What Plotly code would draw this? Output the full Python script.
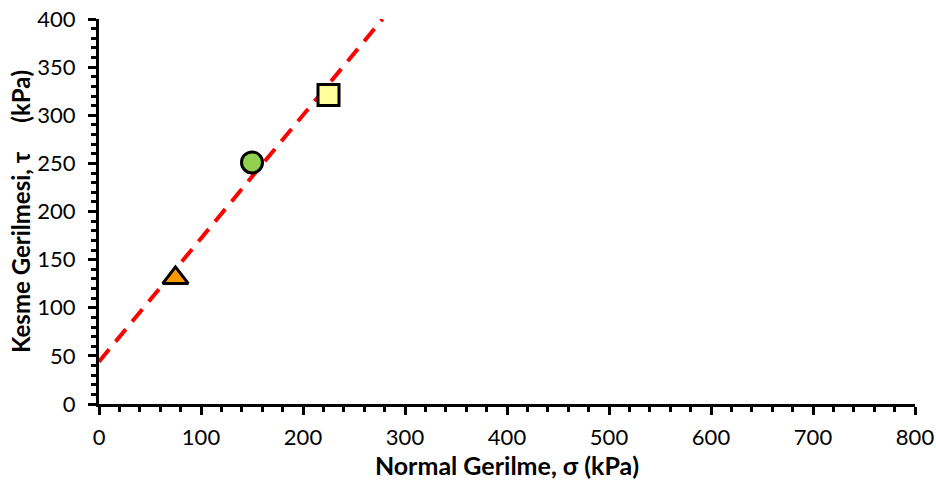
import plotly.graph_objects as go

# data
sigma = [75, 150, 225]
tau = [131, 251, 321]
marker_symbols = ["triangle-up", "circle", "square"]
marker_colors = ["#FF9900", "#92D050", "#FFFF99"]
marker_sizes = [22, 21, 21]
fit_x = [0, 278]
fit_y = [44, 400]
x_ticks = [0, 100, 200, 300, 400, 500, 600, 700, 800]
y_ticks = [0, 50, 100, 150, 200, 250, 300, 350, 400]

fig = go.Figure()
fig.add_trace(go.Scatter(x=fit_x, y=fit_y, mode="lines",
                         line=dict(color="#FF0000", width=4, dash="16px,10px"),
                         showlegend=False))
for sx, ty, sym, col, sz in zip(sigma, tau, marker_symbols, marker_colors, marker_sizes):
    fig.add_trace(go.Scatter(x=[sx], y=[ty], mode="markers",
                             marker=dict(symbol=sym, size=sz,
                                         color=col, line=dict(color="black", width=3)),
                             showlegend=False, cliponaxis=False))

font_family = "Lato, 'Open Sans', sans-serif"
fig.update_layout(
    width=936, height=483,
    margin=dict(l=99, r=21, t=19, b=79),
    plot_bgcolor="white", paper_bgcolor="white",
    font=dict(family=font_family, color="black", size=22),
)
fig.update_xaxes(range=[0, 800], tickvals=x_ticks, ticktext=[str(v) for v in x_ticks],
                 automargin=False, ticklabeloverflow="allow",
                 showgrid=False, zeroline=False, showline=True, linecolor="black", linewidth=3,
                 ticks="outside", ticklen=8, tickwidth=3, tickcolor="black",
                 minor=dict(dtick=20, ticks="outside", ticklen=5, tickwidth=3, tickcolor="black"),
                 tickfont=dict(size=22), ticklabelstandoff=4,
                 title=dict(text="<b>Normal Gerilme, σ (kPa)</b>", font=dict(size=25), standoff=2))
fig.update_yaxes(range=[0, 400], tickvals=y_ticks, ticktext=[str(v) for v in y_ticks],
                 automargin=False, ticklabeloverflow="allow",
                 showgrid=False, zeroline=False, showline=True, linecolor="black", linewidth=3,
                 ticks="outside", ticklen=8, tickwidth=3, tickcolor="black",
                 minor=dict(dtick=10, ticks="outside", ticklen=5, tickwidth=3, tickcolor="black"),
                 tickfont=dict(size=22), ticklabelstandoff=8,
                 title=dict(text="<b>Kesme Gerilmesi, τ\u00a0\u00a0\u00a0\u00a0\u00a0(kPa)</b>",
                            font=dict(size=24), standoff=0))

fig.write_html("out.html", config={"displayModeBar": False},
               post_script="document.body.style.margin='0';document.body.style.overflow='hidden';")
